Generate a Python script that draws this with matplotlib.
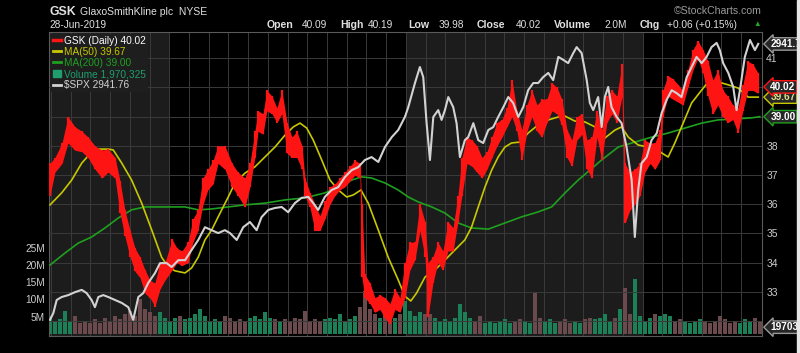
import numpy as np
import matplotlib.pyplot as plt
from matplotlib.lines import Line2D
from matplotlib.patches import Rectangle

plt.rcParams['font.family'] = ['Liberation Sans', 'DejaVu Sans']

# x positions are months since 1-Jul-2016
month_labels = ["J", "A", "S", "O", "N", "D", "17", "F", "M", "A", "M", "J",
                "J", "A", "S", "O", "N", "D", "18", "F", "M", "A", "M", "J",
                "J", "A", "S", "O", "N", "D", "19", "F", "M", "A", "M", "J"]
year_labels = {"17", "18", "19"}

# GSK daily range, sampled about weekly
gsk_m = [-0.05, 0.20, 0.56, 0.86, 1.22, 1.57, 1.88, 2.23, 2.59, 2.89, 3.25, 3.50, 3.75, 4.01,
         4.26, 4.51, 4.77, 5.02, 5.27, 5.53, 5.78, 6.14, 6.39, 6.64, 6.95, 7.20, 7.45, 7.71,
         7.96, 8.22, 8.47, 8.82, 9.18, 9.48, 9.84, 10.09, 10.34, 10.50, 10.75, 10.95, 11.21,
         11.46, 11.71, 11.97, 12.22, 12.47, 12.73, 12.88, 13.13, 13.39, 13.64, 13.89, 14.15,
         14.40, 14.66, 14.91, 15.16, 15.42, 15.67, 15.77, 15.92, 16.18, 16.43, 16.68, 16.94,
         17.19, 17.44, 17.70, 17.95, 18.20, 18.46, 18.71, 18.97, 19.12, 19.37, 19.62, 19.88,
         20.13, 20.39, 20.64, 20.84, 21.10, 21.35, 21.60, 21.86, 22.11, 22.36, 22.62, 22.87,
         23.12, 23.38, 23.63, 23.88, 24.14, 24.39, 24.65, 24.90, 25.15, 25.41, 25.66, 25.91,
         26.17, 26.42, 26.67, 26.93, 27.18, 27.43, 27.69, 27.94, 28.19, 28.45, 28.70, 28.96,
         29.11, 29.36, 29.61, 29.87, 30.12, 30.38, 30.63, 30.88, 31.03, 31.29, 31.54, 31.80,
         32.05, 32.30, 32.56, 32.81, 33.06, 33.32, 33.57, 33.82, 34.08, 34.33, 34.58, 34.84,
         35.09, 35.34, 35.60, 35.85]
gsk_low = [36.3, 37.1, 37.4, 38.1, 37.85, 37.8, 37.6, 37.2, 36.9, 37.1, 36.9, 35.7, 34.9, 34.2,
           33.7, 33.5, 32.95, 32.8, 32.5, 33.1, 33.4, 33.75, 34.0, 33.9, 34.0, 34.7, 35.1, 36.0,
           36.5, 36.7, 37.4, 37.2, 36.6, 36.3, 35.9, 36.6, 37.6, 38.5, 38.4, 39.2, 39.1,
           38.8, 39.1, 37.75, 37.6, 37.6, 37.2, 36.3, 35.9, 35.1, 35.1, 35.5, 36.0,
           36.3, 36.5, 36.6, 36.8, 37.0, 36.9, 33.5, 32.8, 32.6, 32.3, 32.4, 32.1,
           31.9, 32.4, 32.3, 32.8, 33.75, 34.1, 35.1, 34.2, 32.15, 33.3, 34.0, 33.75,
           34.4, 34.4, 35.4, 36.3, 37.4, 37.3, 37.1, 36.9, 37.2, 37.6, 38.0, 38.3,
           38.65, 39.0, 38.5, 37.5, 38.5, 39.0, 38.5, 38.3, 38.8, 39.2, 39.1, 38.7,
           37.6, 37.3, 38.2, 38.4, 37.2, 36.9, 38.3, 37.5, 38.8, 39.1, 38.8, 39.7,
           35.35, 35.8, 36.0, 36.3, 37.1, 37.4, 37.2, 37.5, 39.0, 39.7, 39.6, 39.5,
           39.4, 40.0, 40.6, 41.0, 40.5, 39.7, 39.1, 39.4, 39.0, 38.8, 38.9, 38.45,
           39.2, 39.9, 39.9, 39.8]
gsk_high = [37.4, 37.6, 38.1, 39.0, 38.65, 38.5, 38.3, 38.0, 37.85, 37.9, 37.6, 36.8, 35.8, 35.1,
            34.5, 34.2, 33.75, 33.4, 33.3, 34.0, 34.0, 34.8, 34.5, 34.4, 34.7, 35.5, 35.8, 36.9,
            37.2, 37.5, 38.0, 38.0, 37.4, 37.1, 36.9, 37.4, 38.5, 39.2, 39.1, 39.9, 39.7,
            39.3, 39.9, 38.8, 38.3, 38.5, 38.0, 36.9, 36.4, 36.0, 35.6, 36.1, 36.6,
            36.7, 36.9, 37.1, 37.3, 37.5, 37.4, 36.0, 33.6, 33.3, 32.8, 32.9, 32.8,
            32.6, 33.1, 32.8, 34.0, 34.7, 34.7, 36.0, 35.4, 34.0, 34.2, 34.7, 34.4,
            35.4, 35.2, 36.3, 37.6, 38.3, 38.2, 38.0, 37.6, 37.8, 38.3, 38.8, 38.9,
            39.3, 40.25, 39.2, 38.55, 39.4, 39.9, 39.4, 39.6, 39.6, 40.15, 40.0, 39.6,
            38.55, 38.2, 39.0, 39.1, 38.2, 38.3, 39.2, 38.55, 39.7, 39.9, 39.7, 40.8,
            37.4, 37.1, 37.2, 37.4, 38.2, 38.1, 38.1, 38.55, 39.9, 40.4, 40.3, 40.1,
            39.9, 40.6, 41.3, 41.6, 41.3, 40.9, 40.25, 40.6, 39.9, 39.7, 39.4, 39.3,
            40.1, 40.9, 40.8, 40.5]

ma50_m = [-0.05, 0.54, 1.05, 1.56, 2.06, 2.40, 2.91, 3.16, 3.59, 4.09, 4.60, 5.11, 5.61, 5.95,
          6.29, 6.80, 7.13, 7.47, 7.81, 8.15, 8.48, 8.99, 9.33, 9.84, 10.34, 10.85, 11.36,
          11.87, 12.29, 12.63, 12.97, 13.30, 13.73, 14.15, 14.57, 15.00, 15.33, 15.72, 16.09,
          16.60, 17.10, 17.61, 17.95, 18.25, 18.54, 18.97, 19.47, 19.98, 20.49, 20.99, 21.33,
          21.67, 22.01, 22.35, 22.68, 23.02, 23.36, 23.78, 24.20, 24.71, 25.22, 25.73, 26.07,
          26.57, 27.08, 27.59, 28.09, 28.60, 28.94, 29.28, 29.78, 30.29, 30.63, 30.97, 31.30,
          31.64, 31.98, 32.49, 33.00, 33.33, 33.84, 34.35, 34.85, 35.36, 35.87]
ma50 = [35.98, 36.39, 36.83, 37.41, 37.79, 37.89, 37.89, 37.86, 37.41, 36.83, 36.04, 35.12, 34.19,
        33.85, 33.72, 33.65, 33.82, 34.19, 34.78, 35.12, 35.57, 36.25, 36.73, 37.07, 37.28, 37.62,
        37.96, 38.37, 38.65, 38.78, 38.61, 38.20, 37.52, 36.83, 36.49, 36.25, 36.32, 36.49, 36.04,
        35.12, 34.19, 33.41, 32.85, 32.69, 32.96, 33.51, 33.75, 34.09, 34.44, 34.78, 35.22, 35.91,
        36.59, 37.17, 37.62, 37.96, 38.10, 38.13, 38.44, 38.72, 38.89, 38.99, 39.02, 38.85, 38.82,
        38.65, 38.27, 38.54, 38.65, 38.30, 38.03, 37.96, 37.96, 37.76, 37.62, 38.10, 38.65, 39.47,
        39.91, 40.19, 40.19, 40.09, 39.98, 39.67, 39.67]

ma200_m = [-0.05, 0.71, 1.38, 2.06, 2.74, 3.41, 4.09, 4.77, 5.44, 6.12, 6.80, 7.47, 8.15, 8.99,
           9.84, 10.85, 11.87, 12.88, 13.89, 14.57, 15.25, 15.76, 16.26, 16.94, 17.61, 18.12,
           18.63, 19.31, 19.98, 20.65, 21.33, 22.18, 23.02, 23.87, 24.71, 25.39, 26.07, 26.74,
           27.33, 27.93, 28.77, 29.61, 30.46, 31.30, 32.15, 33.00, 33.84, 34.69, 35.53, 35.95]
ma200 = [33.92, 34.33, 34.67, 34.88, 35.19, 35.53, 35.81, 35.91, 35.91, 35.91, 35.91, 35.81, 35.84,
         35.91, 35.98, 36.04, 36.15, 36.22, 36.39, 36.59, 36.83, 36.94, 36.90, 36.73, 36.49, 36.25,
         36.08, 35.91, 35.70, 35.36, 35.19, 35.15, 35.36, 35.57, 35.74, 35.91, 36.39, 36.83, 37.17,
         37.52, 37.96, 38.13, 38.30, 38.44, 38.61, 38.78, 38.89, 38.92, 38.96, 39.00]

spx_m = [-0.05, 0.12, 0.29, 0.54, 0.88, 1.22, 1.56, 1.81, 2.06, 2.23, 2.40, 2.65, 2.91, 3.25,
         3.59, 3.92, 4.17, 4.43, 4.68, 4.93, 5.27, 5.53, 5.87, 6.12, 6.46, 6.80, 7.13, 7.47,
         7.81, 8.15, 8.48, 8.82, 9.08, 9.42, 9.75, 10.09, 10.43, 10.68, 11.02, 11.36, 11.70,
         12.03, 12.37, 12.71, 13.05, 13.30, 13.55, 13.89, 14.23, 14.57, 14.91, 15.25, 15.58,
         15.92, 16.26, 16.60, 16.94, 17.28, 17.61, 17.95, 18.12, 18.46, 18.71, 18.88, 19.05,
         19.22, 19.39, 19.64, 19.81, 19.98, 20.15, 20.40, 20.57, 20.74, 20.99, 21.16, 21.42,
         21.67, 21.92, 22.18, 22.43, 22.68, 22.94, 23.19, 23.44, 23.70, 23.95, 24.20, 24.46,
         24.71, 24.96, 25.22, 25.47, 25.73, 25.98, 26.23, 26.49, 26.66, 26.91, 27.17, 27.33,
         27.50, 27.75, 27.93, 28.09, 28.26, 28.43, 28.69, 28.94, 29.19, 29.45, 29.61, 29.78,
         29.95, 30.21, 30.46, 30.72, 30.97, 31.22, 31.48, 31.73, 31.98, 32.24, 32.49, 32.74,
         33.00, 33.25, 33.50, 33.76, 33.92, 34.09, 34.35, 34.60, 34.77, 34.94, 35.19, 35.45,
         35.70, 35.87]
spx = [2096, 2117, 2157, 2166, 2172, 2181, 2188, 2178, 2157, 2135, 2166, 2172, 2166, 2157,
       2148, 2135, 2096, 2166, 2178, 2209, 2239, 2270, 2270, 2258, 2279, 2279, 2310, 2341,
       2380, 2371, 2362, 2371, 2362, 2341, 2380, 2396, 2371, 2411, 2433, 2439, 2442,
       2426, 2454, 2470, 2473, 2454, 2433, 2473, 2494, 2503, 2534, 2555, 2564,
       2586, 2595, 2580, 2626, 2656, 2678, 2718, 2748, 2822, 2871, 2840, 2699,
       2586, 2718, 2739, 2709, 2739, 2779, 2748, 2699, 2595, 2647, 2656, 2699,
       2647, 2638, 2678, 2687, 2718, 2748, 2779, 2761, 2718, 2748, 2800, 2822,
       2822, 2840, 2853, 2831, 2902, 2893, 2883, 2914, 2932, 2914, 2831, 2761,
       2739, 2779, 2687, 2779, 2810, 2748, 2718, 2699, 2626, 2525, 2350, 2494,
       2576, 2595, 2647, 2668, 2730, 2770, 2800, 2791, 2779, 2840, 2871, 2902,
       2883, 2902, 2932, 2945, 2923, 2883, 2853, 2810, 2739, 2800, 2902, 2954,
       2923, 2942]

# weekly volume in millions, first and last week in months
vol_first, vol_last = -0.05, 35.95
volume = [5.3, 3.8, 4.2, 6.7, 3.8, 5.3, 3.3, 3.8, 3.3, 4.2, 3.3, 4.7, 3.8, 5.3, 4.2, 5.7, 6.7, 5.3,
          10.1, 7.2, 6.3, 5.3, 6.3, 4.7, 3.8, 4.7, 5.3, 4.2, 4.7, 5.7, 7.2, 5.3, 3.8, 4.2, 3.8,
          5.3, 4.7, 3.8, 4.2, 3.8, 4.7, 5.3, 4.2, 6.3, 4.7, 4.2, 3.8, 4.2, 3.8, 4.7, 4.2, 6.7,
          3.8, 4.2, 3.8, 4.2, 4.7, 4.2, 5.7, 3.8, 4.2, 5.3, 7.8, 12.5, 7.2, 5.7, 4.7, 6.3, 5.3,
          4.7, 5.7, 9.5, 6.7, 5.3, 6.3, 5.7, 5.7, 4.7, 3.8, 4.2, 3.8, 4.7, 8.7, 6.3, 4.7, 3.8,
          5.3, 3.3, 3.8, 3.3, 3.8, 4.2, 3.3, 3.8, 4.2, 3.8, 3.3, 12.0, 4.7, 3.8, 4.2, 3.3, 3.8,
          4.2, 3.3, 3.8, 3.3, 4.2, 4.7, 4.2, 4.7, 5.7, 3.8, 4.7, 7.2, 13.3, 5.7, 16.0, 5.3, 3.8,
          4.7, 5.7, 5.3, 5.7, 5.3, 3.8, 4.2, 3.8, 3.3, 3.8, 4.2, 3.8, 3.3, 3.8, 5.3, 4.2, 3.3,
          3.8, 3.3, 4.2, 3.8, 4.7, 3.8]

RED = '#ff1414'
YELLOW = '#c8c800'
GREEN = '#1fa01f'
TEAL = '#1f9e6e'
WHITE = '#d2d2d2'
GRID = '#3a3a3a'

fig = plt.figure(figsize=(8, 3.53), dpi=100, facecolor='black')
rect = [49 / 800, 17 / 353, 713 / 800, 304 / 353]
ax_vol = fig.add_axes(rect)
ax = fig.add_axes(rect, sharex=ax_vol)
ax_spx = fig.add_axes(rect, sharex=ax_vol)
for a in (ax, ax_spx):
    a.patch.set_visible(False)
    for s in a.spines.values():
        s.set_visible(False)
ax_vol.set_facecolor('black')
for s in ax_vol.spines.values():
    s.set_color('#5a5a5a')
    s.set_linewidth(0.8)

ax_vol.set_xlim(-0.10, 36.06)
ax.set_ylim(31.49, 41.90)
ax_spx.set_ylim(2046.6, 2978.4)
ax_vol.set_ylim(-0.58, 87.3)

# alternate year shading + month grid
ax_vol.axvspan(-0.10, 6, color='#1c1c1c', lw=0, zorder=0)
ax_vol.axvspan(18, 30, color='#1c1c1c', lw=0, zorder=0)
for m in range(len(month_labels)):
    ax_vol.axvline(m, color=GRID, lw=0.7, zorder=0.5)
for p in range(32, 42):
    ax.axhline(p, color=GRID, lw=0.7, zorder=0)

# volume
vol_m = np.linspace(vol_first, vol_last, len(volume))
mid = (np.array(gsk_low) + np.array(gsk_high)) / 2
mid_at = np.interp(vol_m, gsk_m, mid)
up = np.diff(mid_at, prepend=mid_at[0]) >= 0
vcolors = np.where(up, '#1b7f57', '#6a4a4c')
ax_vol.bar(vol_m, volume, width=0.2, color=vcolors, lw=0, zorder=1)

# price and averages
ax.plot(ma200_m, ma200, color=GREEN, lw=1.2, zorder=2)
ax.plot(ma50_m, ma50, color=YELLOW, lw=1.2, zorder=3)
ax.fill_between(gsk_m, gsk_low, gsk_high, color=RED, lw=0, zorder=4)
ax.vlines(gsk_m, gsk_low, gsk_high, color=RED, lw=1.6, zorder=4)
ax_spx.plot(spx_m, spx, color=WHITE, lw=1.5, zorder=5)

# axes ticks
ax_vol.set_xticks(range(len(month_labels)))
ax_vol.set_xticklabels(month_labels)
for t in ax_vol.get_xticklabels():
    if t.get_text() in year_labels:
        t.set_fontweight('bold')
ax_vol.tick_params(axis='x', colors='#dddddd', labelsize=7.3, length=0, pad=2)
ax_vol.set_yticks([5, 10, 15, 20, 25])
ax_vol.set_yticklabels(['5M', '10M', '15M', '20M', '25M'])
ax_vol.tick_params(axis='y', colors='#cccccc', labelsize=7.3, length=0, pad=3)

ax.tick_params(axis='x', bottom=False, labelbottom=False)
ax.yaxis.tick_right()
ax.set_yticks([33, 34, 35, 36, 37, 38, 41])
ax.tick_params(axis='y', colors='#cccccc', labelsize=7.5, length=0, pad=3)
ax_spx.set_xticks([])
ax_spx.set_yticks([])


def tag(axis, y, text, ec, tc, z):
    axis.annotate(text, xy=(1, y), xycoords=('axes fraction', 'data'),
                  xytext=(6, 0), textcoords='offset points', ha='left', va='center',
                  fontsize=7.3, fontweight='bold', color=tc, zorder=z,
                  bbox=dict(boxstyle='larrow,pad=0.12', fc='#262626', ec=ec, lw=1),
                  annotation_clip=False)


tag(ax_spx, 2941.76, '2941.76', '#9a9a9a', 'white', 10)
tag(ax, 39.67, '39.67', YELLOW, '#dddd88', 10)
tag(ax, 40.02, '40.02', RED, 'white', 11)
tag(ax, 39.00, '39.00', GREEN, 'white', 10)
tag(ax_vol, 1.970325, '1970325', '#9a9a9a', 'white', 10)

# legend
handles = [Line2D([], [], color=RED, lw=2.5),
           Line2D([], [], color=YELLOW, lw=2),
           Line2D([], [], color=GREEN, lw=2),
           Rectangle((0, 0), 1, 1, color=TEAL),
           Line2D([], [], color=WHITE, lw=2)]
labels = ['GSK (Daily) 40.02', 'MA(50) 39.67', 'MA(200) 39.00', 'Volume 1,970,325', r'\$SPX 2941.76']
leg = ax_spx.legend(handles, labels, loc='upper left', bbox_to_anchor=(0, 1), borderaxespad=0.15,
                    fontsize=7.3, frameon=True, facecolor='#1e1e1e', edgecolor='none', framealpha=1,
                    handlelength=0.8, handletextpad=0.3, labelspacing=0.12, borderpad=0.2,
                    fancybox=False)
for t, c in zip(leg.get_texts(), ['white', YELLOW, GREEN, TEAL, WHITE]):
    t.set_color(c)

# header
def fy(y):
    return 1 - y / 353

fig.text(49 / 800, fy(12), 'GSK', color='#e0e0e0', fontsize=8.8, fontweight='bold', va='center')
fig.text(80 / 800, fy(12), 'GlaxoSmithKline plc  NYSE', color='#e0e0e0', fontsize=7.5, va='center')
fig.text(49 / 800, fy(24.5), '28-Jun-2019', color='#e0e0e0', fontsize=7.3, va='center')
header = [(267, 'Open', True), (302, '40.09', False), (340, 'High', True), (368, '40.19', False),
          (408, 'Low', True), (439, '39.98', False), (477, 'Close', True), (516, '40.02', False),
          (554, 'Volume', True), (604, '2.0M', False), (640, 'Chg', True),
          (667, '+0.06 (+0.15%)', False)]
for x, s, b in header:
    fig.text(x / 800, fy(24.5), s, color='#e0e0e0', fontsize=7.6 if b else 7.3,
             fontweight='bold' if b else 'normal', va='center')
fig.text(757 / 800, fy(24.5), '\u25b2', color='#22aa22', fontsize=5.5, va='center', ha='center')
fig.text(762 / 800, fy(11), '\u00a9StockCharts.com', color='#9a9a9a', fontsize=7.6, va='center', ha='right')

fig.patches.append(Rectangle((797 / 800, 0), 3 / 800, 1, transform=fig.transFigure,
                             color='#e6e6e6', zorder=20))

fig.savefig('out.png', dpi=100, facecolor='black')
